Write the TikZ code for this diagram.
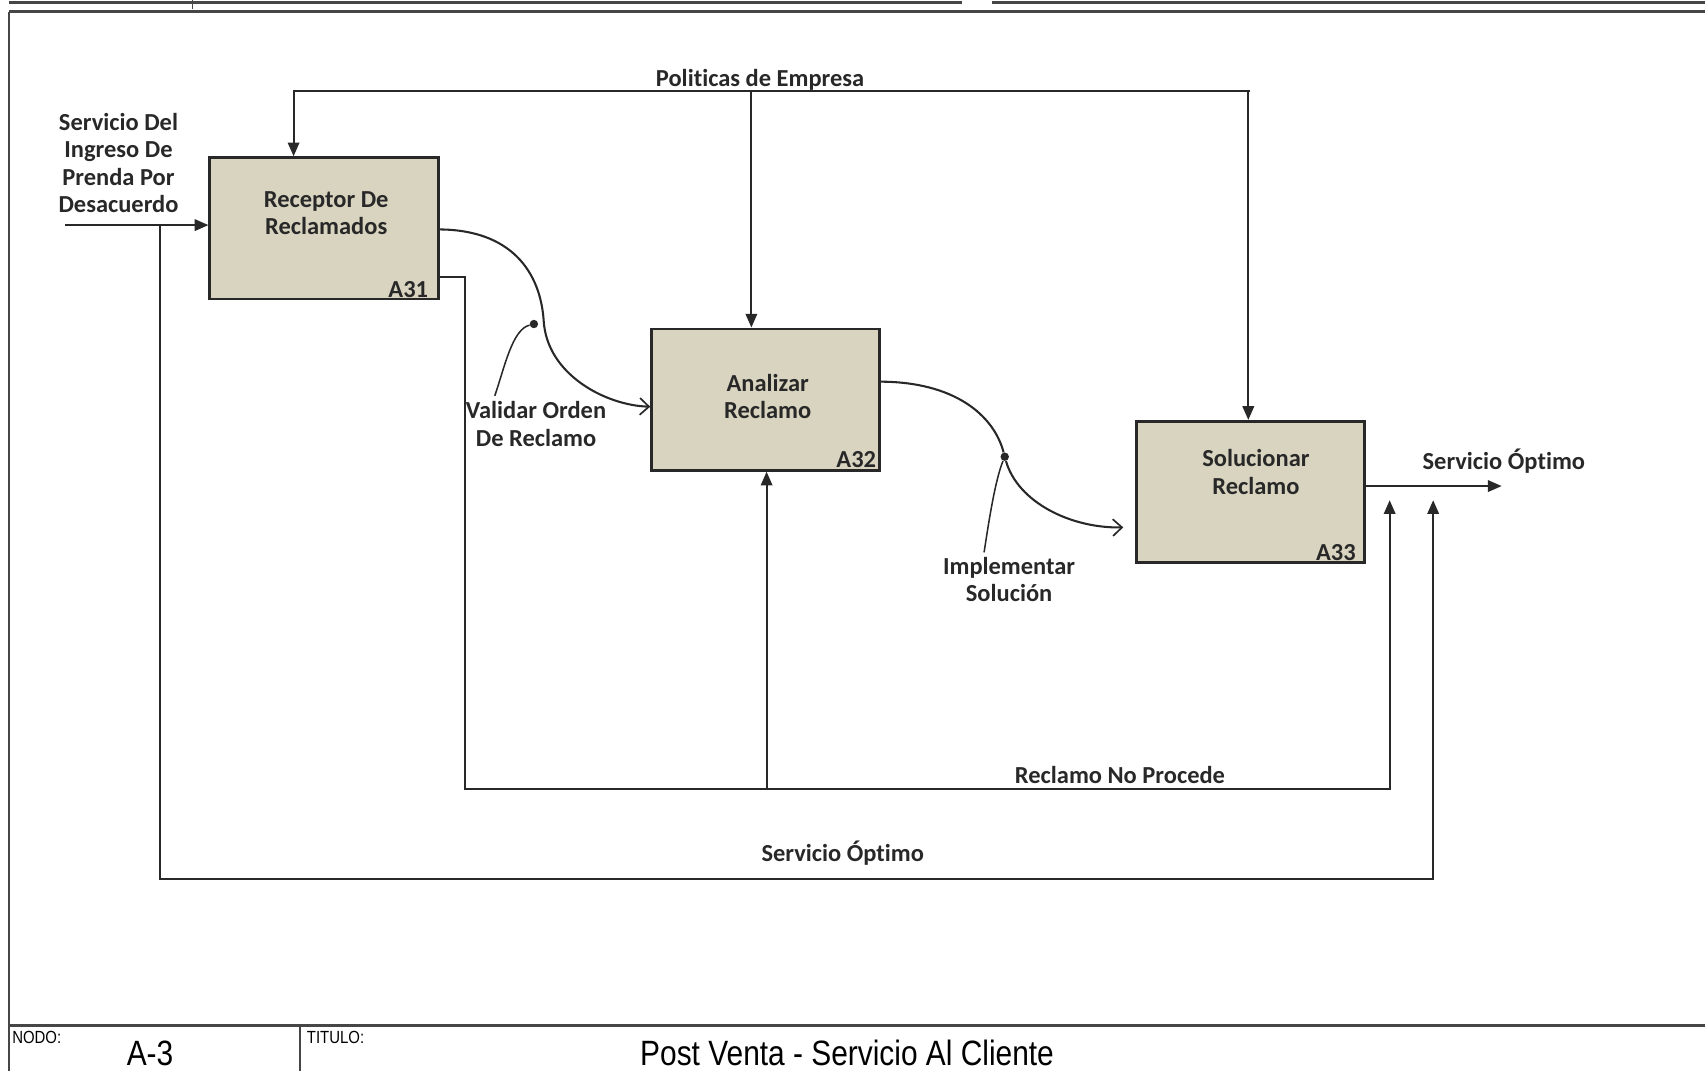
\documentclass[tikz,border=0pt]{standalone}
\usepackage{fontspec}
\setmainfont{Carlito}[Ligatures=NoCommon]
\newfontfamily\formfont[FakeStretch=0.85]{Liberation Sans}
\usetikzlibrary{arrows.meta,calc}

\definecolor{boxfill}{RGB}{216,212,192}
\definecolor{ink}{RGB}{40,40,40}
\definecolor{rule}{RGB}{70,70,70}

\begin{document}
\begin{tikzpicture}[x=0.025cm,y=-0.025cm,
  flow/.style={draw=ink,line width=1.35pt},
  solidhead/.style={-{Triangle[length=9pt,width=7.5pt]}},
  openhead/.style={-{Straight Barb[length=6pt,width=11pt,line width=1.1pt]}},
  act/.style={draw=ink,line width=1.8pt,fill=boxfill,minimum width=5.25cm,
    minimum height=3.25cm,inner sep=0pt},
  lbl/.style={text=ink,font=\fontsize{16}{17.8}\selectfont\bfseries,align=center,inner sep=0pt},
  formsmall/.style={text=black,font=\formfont\fontsize{11.5}{12}\selectfont,inner sep=0pt},
  formbig/.style={text=black,font=\formfont\fontsize{23}{26}\selectfont,inner sep=0pt},
  dotn/.style={circle,fill=ink,inner sep=0pt,minimum size=5.5pt},
]
\useasboundingbox (0,0) rectangle (1568,985);

% form frame
\draw[rule,line width=2pt] (8,2) -- (885,2) (912,2) -- (1568,2);
\draw[rule,line width=0.8pt] (177,0) -- (177,8);
\draw[rule,line width=2pt] (8,11) -- (1568,11);
\draw[rule,line width=1.4pt] (8,11) -- (8,985);
\draw[rule,line width=2pt] (8,943) -- (1568,943);
\draw[rule,line width=1pt] (276,943) -- (276,985);
\node[formsmall,anchor=north west] (nodocap) at (11,948) {NODO:};
\node[formsmall,anchor=north west] (titcap) at (282,948) {TITULO:};
\node[formbig,anchor=base] (nodoval) at (138,980) {A-3};
\node[formbig,anchor=base] (titval) at (779,980) {Post Venta - Servicio Al Cliente};

% activities
\node[act] (a31) at (298,210) {};
\node[act] (a32) at (704,367.5) {};
\node[act] (a33) at (1150,452.5) {};
\node[lbl] (a31t) at (300,196) {Receptor De\\Reclamados};
\node[lbl] (a32t) at (706,365) {Analizar\\Reclamo};
\node[lbl] (a33t) at (1155,434) {Solucionar\\Reclamo};
\node[lbl,anchor=south east] (a31id) at (394,274) {A31};
\node[lbl,anchor=south east] (a32id) at (806,430) {A32};
\node[lbl,anchor=south east] (a33id) at (1247,516) {A33};

% input
\node[lbl] (inlab) at (109,150) {Servicio Del\\Ingreso De\\Prenda Por\\Desacuerdo};
\coordinate (inS) at (60,207);
\draw[flow,solidhead] (inS) -- (inS -| a31.west);

% controls
\node[lbl] (ctllab) at (699,73) {Politicas de Empresa};
\coordinate (ctlL) at (270,84);
\coordinate (ctlM) at (691,84);
\coordinate (ctlR) at (1150,84);
\draw[flow,solidhead] (ctlR) -- (ctlL) -- (ctlL |- a31.north);
\draw[flow,solidhead] (ctlM) -- (ctlM |- a32.north);
\draw[flow,solidhead] (ctlR) ++(-2,0) coordinate (ctlR2) -- (ctlR2 |- a33.north);

% A31 -> A32
\coordinate (c1s) at (403,211);
\coordinate (c1m) at (500,295);
\coordinate (c1e) at (598,374);
\draw[flow,openhead] (c1s) .. controls (470,211) and (497,250) .. (c1m)
  .. controls (503,345) and (558,373) .. (c1e);
\node[dotn] (d1) at (491,298) {};
\node[lbl] (vlab) at (493,390) {Validar Orden\\De Reclamo};
\coordinate (v1) at (455,364);
\draw[flow,line width=1pt] (d1) .. controls (471,303) and (464,338) .. (v1);

% A32 -> A33
\coordinate (c2s) at (809,351);
\coordinate (c2e) at (1033,485);
\node[dotn] (d2) at (924,420) {};
\draw[flow,openhead] (c2s) .. controls (878,351) and (914,382) .. (d2)
  .. controls (936,462) and (985,486) .. (c2e);
\node[lbl] (ilab) at (928,533) {Implementar\\Solución};
\coordinate (v2) at (905,508);
\draw[flow,line width=1pt] (d2) .. controls (915,442) and (909,482) .. (v2);

% output
\coordinate (outS) at (1255,447);
\coordinate (outE) at (1381,447);
\draw[flow,solidhead] (outS) -- (outE);
\node[lbl] (outlab) at (1383,424) {Servicio Óptimo};

% rejected claims loop
\coordinate (r0) at (403,255);
\coordinate (r1) at (428,255);
\coordinate (r2) at (428,726);
\coordinate (r3) at (1278,726);
\coordinate (r4) at (1278,460);
\coordinate (rm) at (705,726);
\draw[flow,solidhead] (r0) -- (r1) -- (r2) -- (r3) -- (r4);
\draw[flow,solidhead] (rm) -- (rm |- a32.south);
\node[lbl] (rlab) at (1030,713) {Reclamo No Procede};

% optimal service loop
\coordinate (s0) at (147,207);
\coordinate (s1) at (147,808);
\coordinate (s2) at (1318,808);
\coordinate (s3) at (1318,460);
\draw[flow,solidhead] (s0) -- (s1) -- (s2) -- (s3);
\node[lbl] (slab) at (775,785) {Servicio Óptimo};
\end{tikzpicture}
\end{document}
